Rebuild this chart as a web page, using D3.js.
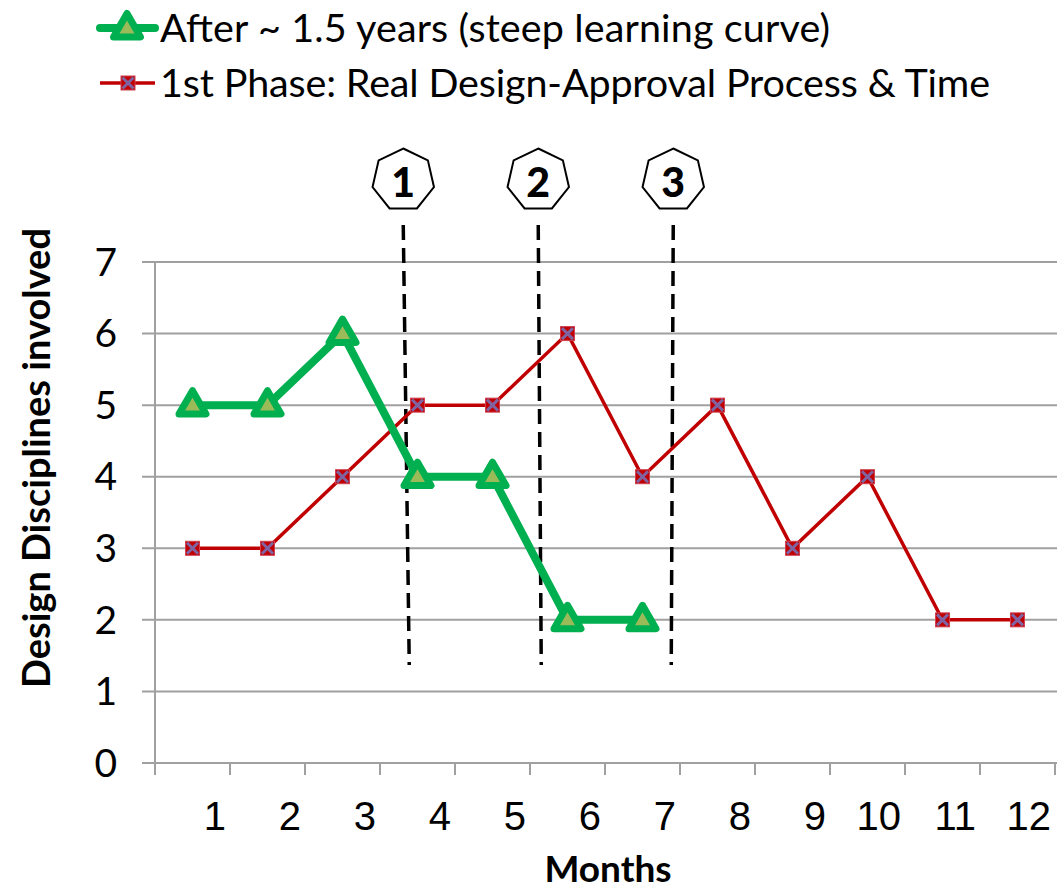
<!DOCTYPE html>
<html><head><meta charset="utf-8">
<script src="https://cdn.jsdelivr.net/npm/d3@7/dist/d3.min.js"></script>
<style>body{margin:0;background:#fff}svg{display:block}</style>
</head><body>
<script>
const months = [1,2,3,4,5,6,7,8,9,10,11,12];
const afterValues = [5,5,6,4,4,2,2];
const firstPhaseValues = [3,3,4,5,5,6,4,5,3,4,2,2];
const yTicks = [0,1,2,3,4,5,6,7];
const seriesNames = ["After ~ 1.5 years (steep learning curve)", "1st Phase: Real Design-Approval Process & Time"];
const milestones = [{label:"1", pos:3.31}, {label:"2", pos:5.11}, {label:"3", pos:6.91}];

const W = 1063, H = 890;
const svg = d3.select("body").append("svg").attr("width", W).attr("height", H);
const L = 155, R = 1055, T = 262, B = 763;

const x = d3.scaleBand().domain(months).range([L, R]).padding(0);
const xc = m => x(m) + x.bandwidth()/2;
const xl = d3.scaleLinear().domain([0, 12]).range([L, R]);
const y = d3.scaleLinear().domain([0, 7]).range([B, T]);

const gray = "#A0A0A0";
svg.append("g").selectAll("line").data(yTicks).join("line")
  .attr("x1", L - 13).attr("x2", R + 2).attr("y1", d => y(d)).attr("y2", d => y(d))
  .attr("stroke", gray).attr("stroke-width", 2);
svg.append("line").attr("x1", L).attr("x2", L).attr("y1", T).attr("y2", B + 12)
  .attr("stroke", gray).attr("stroke-width", 2);
svg.append("g").selectAll("line").data(d3.range(0, 13)).join("line")
  .attr("x1", d => xl(d)).attr("x2", d => xl(d)).attr("y1", B).attr("y2", B + 12)
  .attr("stroke", gray).attr("stroke-width", 2);
svg.append("g").selectAll("text").data(yTicks).join("text")
  .attr("x", 117).attr("y", d => y(d)).attr("dy", "0.35em")
  .attr("text-anchor", "end").attr("font-family", "Lato").attr("font-size", 39)
  .attr("fill", "#000").text(d => d);
svg.append("g").selectAll("text").data(months).join("text")
  .attr("x", d => x(d) + x.bandwidth() - 4).attr("y", 830)
  .attr("text-anchor", "end").attr("font-family", "Liberation Sans, Arial").attr("font-size", 40)
  .attr("fill", "#000").text(d => d);
svg.append("text").attr("x", 608).attr("y", 882).attr("text-anchor", "middle")
  .attr("font-family", "Lato").attr("font-weight", "bold").attr("font-size", 37).text("Months");
svg.append("text").attr("transform", "translate(50,458) rotate(-90)").attr("text-anchor", "middle")
  .attr("font-family", "Lato").attr("font-weight", "bold").attr("font-size", 38).text("Design Disciplines involved");

const dashTop = 225, dashBot = 665;
const skew = [6, 3, -2];
svg.append("g").selectAll("line").data(milestones).join("line")
  .attr("x1", d => xl(d.pos)).attr("x2", (d, i) => xl(d.pos) + skew[i])
  .attr("y1", dashTop).attr("y2", dashBot)
  .attr("stroke", "#000").attr("stroke-width", 3.5).attr("stroke-dasharray", "15,8");

const Rh = 31.5;
const hept = d3.range(7).map(i => { const a = i * 2 * Math.PI / 7; return [Rh*Math.sin(a), -Rh*Math.cos(a)]; });
const mg = svg.append("g").selectAll("g").data(milestones).join("g")
  .attr("transform", d => `translate(${xl(d.pos)},180)`);
mg.append("polygon").attr("points", hept.map(p => p.join(",")).join(" "))
  .attr("fill", "#fff").attr("stroke", "#000").attr("stroke-width", 2);
mg.append("text").attr("text-anchor", "middle").attr("dy", "0.36em").attr("y", 2)
  .attr("font-family", "Lato").attr("font-weight", "900").attr("font-size", 41).text(d => d.label);

const green = "#00B050", red = "#C00000";
const line = d3.line().x((d, i) => xc(months[i])).y(d => y(d));
svg.append("path").datum(firstPhaseValues).attr("d", line).attr("fill", "none")
  .attr("stroke", red).attr("stroke-width", 3.5);
svg.append("path").datum(afterValues).attr("d", line).attr("fill", "none")
  .attr("stroke", green).attr("stroke-width", 8).attr("stroke-linejoin", "round");

function triangle(g, cx, cy) {
  const s = 27, h = s * Math.sqrt(3) / 2;
  g.append("path").attr("d", `M${cx},${cy - h*0.62}L${cx + s/2},${cy + h*0.38}L${cx - s/2},${cy + h*0.38}Z`)
    .attr("fill", "#9BBB59").attr("stroke", green).attr("stroke-width", 7).attr("stroke-linejoin", "round");
}
function squareX(g, cx, cy) {
  const s = 14;
  g.append("rect").attr("x", cx - s/2).attr("y", cy - s/2).attr("width", s).attr("height", s)
    .attr("fill", red).attr("stroke", "#D04050").attr("stroke-width", 1);
  const d = 5.5;
  g.append("path").attr("d", `M${cx-d},${cy-d}L${cx+d},${cy+d}M${cx-d},${cy+d}L${cx+d},${cy-d}`)
    .attr("stroke", "#8064A2").attr("stroke-width", 3);
}
const rg = svg.append("g");
firstPhaseValues.forEach((v, i) => squareX(rg, xc(months[i]), y(v)));
const gg = svg.append("g");
afterValues.forEach((v, i) => triangle(gg, xc(months[i]), y(v)));

const lg = svg.append("g");
lg.append("line").attr("x1", 100).attr("x2", 155).attr("y1", 28).attr("y2", 28)
  .attr("stroke", green).attr("stroke-width", 8).attr("stroke-linecap", "round");
triangle(lg, 127, 28);
lg.append("line").attr("x1", 100).attr("x2", 155).attr("y1", 83).attr("y2", 83)
  .attr("stroke", red).attr("stroke-width", 3.5);
squareX(lg, 128, 83);
const legW = [670, 830];
lg.selectAll("text").data(seriesNames).join("text")
  .attr("x", 160).attr("y", (d, i) => 28 + i * 55).attr("dy", "0.35em")
  .attr("font-family", "Lato").attr("font-size", 39.5).attr("fill", "#000")
  .attr("textLength", (d, i) => legW[i]).attr("lengthAdjust", "spacing").text(d => d);
</script>
</body></html>
